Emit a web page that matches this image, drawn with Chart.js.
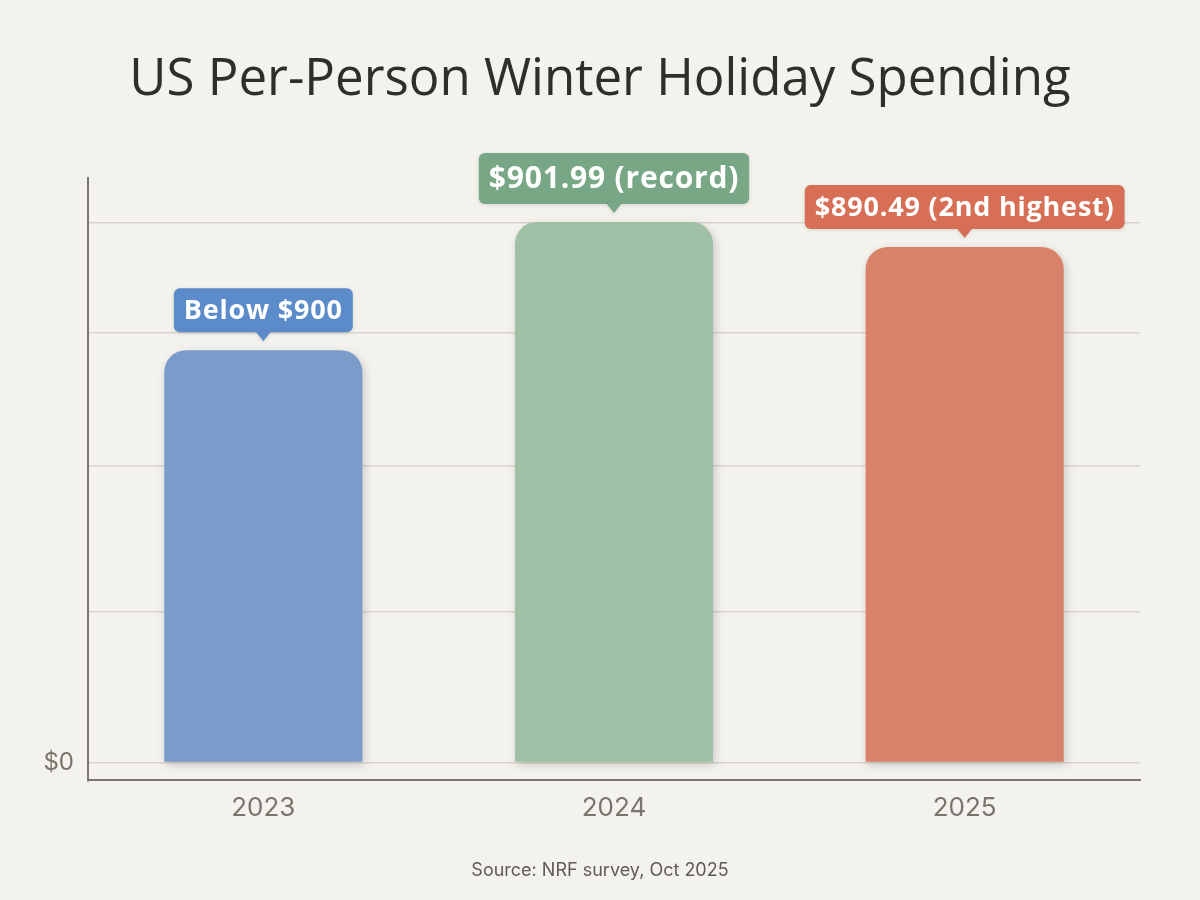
<!DOCTYPE html>
<html>
<head>
<meta charset="utf-8">
<title>US Per-Person Winter Holiday Spending</title>
<script src="https://cdn.jsdelivr.net/npm/chart.js@4.4.1/dist/chart.umd.min.js"></script>
<style>
    html, body { margin: 0; padding: 0; background: #f4f2ed; }
    #wrap { width: 1200px; height: 900px; position: relative; }
</style>
</head>
<body>
<div id="wrap"><canvas id="spending-chart" width="1200" height="900"></canvas></div>
<script>
// data
const years = ["2023", "2024", "2025"];
const spending = [688, 901.99, 860];          // bar heights as drawn
const calloutText = ["Below $900", "$901.99 (record)", "$890.49 (2nd highest)"];
const gridValues = [0, 252, 495, 717, 900];   // gridline positions
const yTickLabels = { 0: "$0" };

const barColors = ["#7a9cca", "#9fc0a4", "#d9826a"];
const calloutColors = ["#5b8bc8", "#78a786", "#d66f55"];
const calloutSizes = [27, 30, 27];

// draws the little speech-bubble labels above each bar
const calloutPlugin = {
    id: "callouts",
    afterDatasetsDraw(chart) {
        const ctx = chart.ctx;
        const meta = chart.getDatasetMeta(0);
        meta.data.forEach((bar, i) => {
            const size = calloutSizes[i];
            ctx.save();
            ctx.font = `bold ${size}px "Open Sans"`;
            ctx.letterSpacing = "0.8px";
            const w = ctx.measureText(calloutText[i]).width + 20;
            const h = i === 1 ? 51 : 44;
            const x = bar.x - w / 2;
            const bottom = bar.y - 18;
            const top = bottom - h;

            ctx.fillStyle = calloutColors[i];
            ctx.shadowColor = "rgba(0,0,0,0.12)";
            ctx.shadowBlur = 4;
            ctx.shadowOffsetY = 1;
            ctx.beginPath();
            ctx.roundRect(x, top, w, h, 6);
            ctx.fill();
            ctx.beginPath();
            ctx.moveTo(bar.x - 8, bottom - 1);
            ctx.lineTo(bar.x + 8, bottom - 1);
            ctx.lineTo(bar.x, bottom + 9);
            ctx.closePath();
            ctx.fill();

            ctx.shadowColor = "transparent";
            ctx.fillStyle = "#ffffff";
            ctx.textAlign = "center";
            ctx.textBaseline = "middle";
            ctx.fillText(calloutText[i], bar.x, top + h / 2 + 1);
            ctx.restore();
        });
    }
};

// soft shadow under the bars
const barShadow = {
    id: "barShadow",
    beforeDatasetDraw(chart) {
        const ctx = chart.ctx;
        ctx.save();
        ctx.shadowColor = "rgba(0,0,0,0.18)";
        ctx.shadowBlur = 10;
        ctx.shadowOffsetX = 2;
        ctx.shadowOffsetY = 3;
    },
    afterDatasetDraw(chart) {
        chart.ctx.restore();
    }
};

const ctx = document.getElementById("spending-chart").getContext("2d");
new Chart(ctx, {
    type: "bar",
    data: {
        labels: years,
        datasets: [{
            label: "Per-person spending",
            data: spending,
            backgroundColor: barColors,
            borderRadius: 22,
            borderSkipped: "bottom",
            barPercentage: 0.565,
            categoryPercentage: 1
        }]
    },
    options: {
        responsive: false,
        animation: false,
        layout: { padding: 0 },
        plugins: {
            legend: { display: false },
            tooltip: { enabled: false },
            title: {
                display: true,
                text: "US Per-Person Winter Holiday Spending",
                color: "#2f2e2c",
                font: { family: "Open Sans", size: 51, weight: "normal" },
                padding: { top: 50, bottom: 67 }
            },
            subtitle: {
                display: true,
                position: "bottom",
                text: "Source: NRF survey, Oct 2025",
                color: "#5f5b56",
                font: { family: "Inter", size: 18, weight: "normal" },
                padding: { top: 0, bottom: 19 }
            }
        },
        scales: {
            x: {
                grid: { display: false, drawTicks: false },
                border: { display: true, color: "#7b766f", width: 2 },
                ticks: {
                    color: "#7a746c",
                    font: { family: "Inter", size: 26 },
                    padding: 12
                },
                afterFit(axis) { axis.height = 79; }
            },
            y: {
                min: -30,
                max: 975,
                grid: { color: "#d8d3cb", lineWidth: 1.5, drawTicks: false },
                border: { display: true, color: "#7b766f", width: 2 },
                afterBuildTicks(axis) {
                    axis.ticks = gridValues.map(v => ({ value: v }));
                },
                ticks: {
                    color: "#7a746c",
                    font: { family: "Inter", size: 24 },
                    padding: 14,
                    callback: v => yTickLabels[v] || ""
                },
                afterFit(axis) { axis.width = 88; }
            },
            // empty right-hand spacer so the plot ends at the same place
            spacer: {
                position: "right",
                grid: { display: false, drawTicks: false },
                border: { display: false },
                ticks: { display: false },
                afterFit(axis) { axis.width = 60; }
            }
        }
    },
    plugins: [barShadow, calloutPlugin]
});
</script>
</body>
</html>
